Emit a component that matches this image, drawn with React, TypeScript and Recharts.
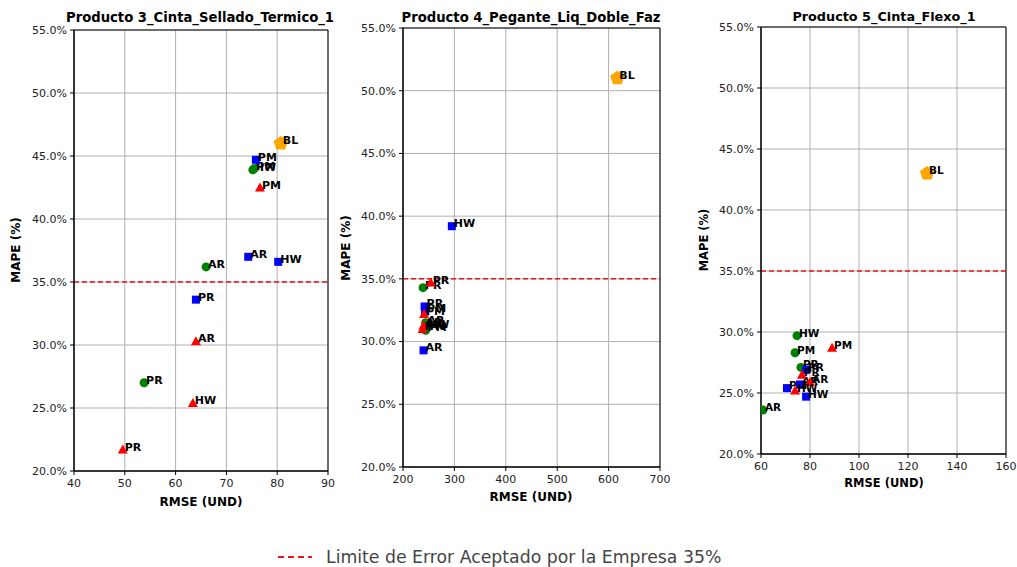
import React from 'react';
import { ScatterChart, Scatter, XAxis, YAxis, CartesianGrid, ReferenceLine, ReferenceArea } from 'recharts';

// ---------- Data ----------
const modelLabelsGreenP3 = ['AR', 'PR', 'HW', 'PM'];
const greenRmseP3 = [66.0, 53.8, 75.2, 75.5];
const greenMapeP3 = [36.2, 27.0, 43.9, 44.0];
const modelLabelsBlueP3 = ['PM', 'AR', 'HW', 'PR'];
const blueRmseP3 = [75.8, 74.3, 80.2, 64.0];
const blueMapeP3 = [44.7, 37.0, 36.6, 33.6];
const modelLabelsRedP3 = ['PM', 'AR', 'HW', 'PR'];
const redRmseP3 = [76.6, 64.0, 63.4, 49.6];
const redMapeP3 = [42.5, 30.3, 25.4, 21.7];
const blRmseP3 = [80.7];
const blMapeP3 = [46.0];

const modelLabelsGreenP4 = ['PR', 'AR', 'HW', 'PM'];
const greenRmseP4 = [239, 244, 245, 244];
const greenMapeP4 = [34.3, 31.5, 31.2, 30.9];
const modelLabelsBlueP4 = ['HW', 'PR', 'PM', 'AR'];
const blueRmseP4 = [295, 242, 243, 240];
const blueMapeP4 = [39.2, 32.8, 32.4, 29.3];
const modelLabelsRedP4 = ['PR', 'PM', 'AR', 'HW'];
const redRmseP4 = [254, 241, 240, 238];
const redMapeP4 = [34.7, 32.2, 31.3, 31.0];
const blRmseP4 = [617];
const blMapeP4 = [51.0];

const modelLabelsGreenP5 = ['HW', 'PM', 'PR', 'AR'];
const greenRmseP5 = [74.7, 73.9, 76.3, 60.8];
const greenMapeP5 = [29.7, 28.3, 27.1, 23.6];
const modelLabelsBlueP5 = ['PR', 'PM', 'AR', 'HW'];
const blueRmseP5 = [78.4, 70.6, 75.9, 78.4];
const blueMapeP5 = [26.9, 25.4, 25.7, 24.7];
const modelLabelsRedP5 = ['PM', 'PR', 'AR', 'HW'];
const redRmseP5 = [89.0, 76.7, 80.0, 73.9];
const redMapeP5 = [28.7, 26.5, 25.9, 25.2];
const blRmseP5 = [127.8];
const blMapeP5 = [43.0];

const yTicks = [20, 25, 30, 35, 40, 45, 50, 55];
const xTicksP3 = [40, 50, 60, 70, 80, 90];
const xTicksP4 = [200, 300, 400, 500, 600, 700];
const xTicksP5 = [60, 80, 100, 120, 140, 160];

const titles = ['Producto 3_Cinta_Sellado_Termico_1', 'Producto 4_Pegante_Liq_Doble_Faz', 'Producto 5_Cinta_Flexo_1'];
const limitValue = 35;
const legendText = 'Limite de Error Aceptado por la Empresa 35%';

// ---------- Helpers ----------
const FONT = "'DejaVu Sans', sans-serif";
const build = (labels: string[], xs: number[], ys: number[]) =>
  labels.map((l, i) => ({ label: l, x: xs[i], y: ys[i] }));

const makeShape = (kind: string, fs: number) => (props: any) => {
  const { cx, cy, payload } = props;
  if (cx == null || cy == null) return <g />;
  let marker: React.ReactNode = null;
  if (kind === 'circle') marker = <circle cx={cx} cy={cy} r={4.5} fill="#008000" />;
  else if (kind === 'square') marker = <rect x={cx - 4} y={cy - 4} width={8} height={8} fill="#0000ff" />;
  else if (kind === 'triangle')
    marker = <polygon points={`${cx},${cy - 5} ${cx + 5},${cy + 4} ${cx - 5},${cy + 4}`} fill="#ff0000" />;
  else {
    const r = 7.5;
    const pts = [0, 1, 2, 3, 4]
      .map((i) => {
        const a = -Math.PI / 2 + (i * 2 * Math.PI) / 5;
        return `${cx + r * Math.cos(a)},${cy + r * Math.sin(a)}`;
      })
      .join(' ');
    marker = <polygon points={pts} fill="#ffa500" />;
  }
  return (
    <g>
      {marker}
      <text x={cx + 2} y={cy + 1} fontSize={fs} fontWeight="bold" fontFamily={FONT} fill="#000">
        {payload.label}
      </text>
    </g>
  );
};

interface PanelProps {
  left: number;
  top: number;
  width: number;
  height: number;
  margin: { top: number; right: number; bottom: number; left: number };
  xDomain: [number, number];
  xTicks: number[];
  green: any[];
  blue: any[];
  red: any[];
  bl: any[];
  fs: number;
}

const Panel = (p: PanelProps) => (
  <div style={{ position: 'absolute', left: p.left, top: p.top }}>
    <ScatterChart width={p.width} height={p.height} margin={p.margin}>
      <CartesianGrid stroke="#b0b0b0" strokeWidth={1} />
      <XAxis
        type="number"
        dataKey="x"
        domain={p.xDomain}
        ticks={p.xTicks}
        interval={0}
        height={30}
        tickSize={4}
        tickMargin={4}
        axisLine={{ stroke: '#000' }}
        tickLine={{ stroke: '#000' }}
        tick={{ fontSize: 11, fontFamily: FONT, fill: '#222' }}
        allowDataOverflow
      />
      <YAxis
        type="number"
        dataKey="y"
        domain={[20, 55]}
        ticks={yTicks}
        interval={0}
        width={60}
        tickSize={4}
        tickMargin={3}
        axisLine={{ stroke: '#000' }}
        tickLine={{ stroke: '#000' }}
        tickFormatter={(v: number) => v.toFixed(1) + '%'}
        tick={{ fontSize: 11, fontFamily: FONT, fill: '#222' }}
        allowDataOverflow
      />
      <ReferenceArea x1={p.xDomain[0]} x2={p.xDomain[1]} y1={20} y2={55} fill="none" fillOpacity={0} stroke="#000" strokeWidth={1} />
      <ReferenceLine y={limitValue} stroke="#e8141e" strokeWidth={1.5} strokeDasharray="5 3" />
      <Scatter data={p.green} shape={makeShape('circle', p.fs)} isAnimationActive={false} />
      <Scatter data={p.blue} shape={makeShape('square', p.fs)} isAnimationActive={false} />
      <Scatter data={p.red} shape={makeShape('triangle', p.fs)} isAnimationActive={false} />
      <Scatter data={p.bl} shape={makeShape('pentagon', p.fs)} isAnimationActive={false} />
    </ScatterChart>
  </div>
);

export default function App() {
  const p3 = {
    green: build(modelLabelsGreenP3, greenRmseP3, greenMapeP3),
    blue: build(modelLabelsBlueP3, blueRmseP3, blueMapeP3),
    red: build(modelLabelsRedP3, redRmseP3, redMapeP3),
    bl: build(['BL'], blRmseP3, blMapeP3),
  };
  const p4 = {
    green: build(modelLabelsGreenP4, greenRmseP4, greenMapeP4),
    blue: build(modelLabelsBlueP4, blueRmseP4, blueMapeP4),
    red: build(modelLabelsRedP4, redRmseP4, redMapeP4),
    bl: build(['BL'], blRmseP4, blMapeP4),
  };
  const p5 = {
    green: build(modelLabelsGreenP5, greenRmseP5, greenMapeP5),
    blue: build(modelLabelsBlueP5, blueRmseP5, blueMapeP5),
    red: build(modelLabelsRedP5, redRmseP5, redMapeP5),
    bl: build(['BL'], blRmseP5, blMapeP5),
  };
  return (
    <div style={{ position: 'absolute', left: 0, top: 0, width: 1017, height: 567, background: '#fff', overflow: 'hidden' }}>
      <Panel left={0} top={0} width={340} height={520} margin={{ top: 30, right: 12, bottom: 19, left: 14 }}
        xDomain={[40, 90]} xTicks={xTicksP3} fs={11} {...p3} />
      <Panel left={340} top={0} width={330} height={520} margin={{ top: 28, right: 10, bottom: 23, left: 3 }}
        xDomain={[200, 700]} xTicks={xTicksP4} fs={11} {...p4} />
      <Panel left={690} top={0} width={327} height={500} margin={{ top: 27, right: 11, bottom: 16, left: 11 }}
        xDomain={[60, 160]} xTicks={xTicksP5} fs={10.5} {...p5} />
      <svg width={1017} height={567} style={{ position: 'absolute', left: 0, top: 0, pointerEvents: 'none' }}>
        <text x={200} y={22} textAnchor="middle" fontSize={13.2} fontWeight="bold" fontFamily={FONT} fill="#000">{titles[0]}</text>
        <text x={531} y={22} textAnchor="middle" fontSize={13.2} fontWeight="bold" fontFamily={FONT} fill="#000">{titles[1]}</text>
        <text x={884} y={21} textAnchor="middle" fontSize={12.8} fontWeight="bold" fontFamily={FONT} fill="#000">{titles[2]}</text>
        <text x={201} y={506} textAnchor="middle" fontSize={12} fontWeight="bold" fontFamily={FONT} fill="#000">RMSE (UND)</text>
        <text x={531} y={501} textAnchor="middle" fontSize={12} fontWeight="bold" fontFamily={FONT} fill="#000">RMSE (UND)</text>
        <text x={884} y={487} textAnchor="middle" fontSize={11.5} fontWeight="bold" fontFamily={FONT} fill="#000">RMSE (UND)</text>
        <text transform="translate(20,250) rotate(-90)" textAnchor="middle" fontSize={12} fontWeight="bold" fontFamily={FONT} fill="#000">MAPE (%)</text>
        <text transform="translate(350,248) rotate(-90)" textAnchor="middle" fontSize={12} fontWeight="bold" fontFamily={FONT} fill="#000">MAPE (%)</text>
        <text transform="translate(708,240) rotate(-90)" textAnchor="middle" fontSize={11.5} fontWeight="bold" fontFamily={FONT} fill="#000">MAPE (%)</text>
        <line x1={278} x2={312} y1={557} y2={557} stroke="#e8141e" strokeWidth={2} strokeDasharray="6 4" />
        <text x={326} y={563} fontSize={17.3} fontFamily={FONT} fill="#444">{legendText}</text>
      </svg>
    </div>
  );
}
